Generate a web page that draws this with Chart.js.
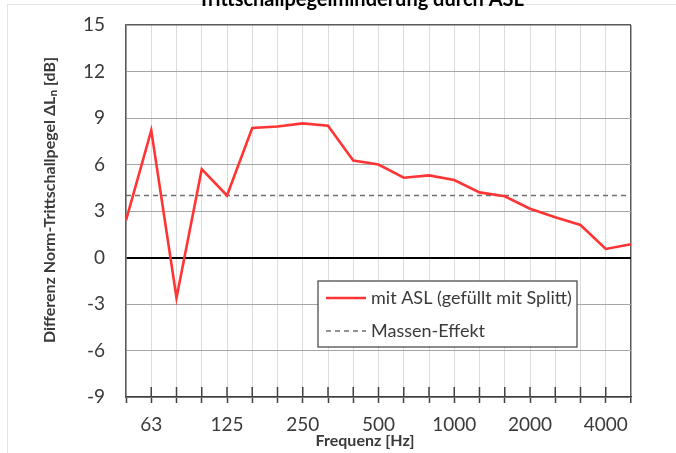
<!DOCTYPE html>
<html lang="de">
<head>
<meta charset="UTF-8">
<title>Trittschallpegelminderung durch ASL</title>
<script src="https://cdn.jsdelivr.net/npm/chart.js@4.4.1/dist/chart.umd.min.js"></script>
<style>
  html, body { margin: 0; padding: 0; background: #fff; overflow: hidden; }
  #wrap { position: relative; width: 676px; height: 453px; }
  #frame { position: absolute; left: 7px; top: 4px; right: -10px; bottom: -10px; border: 1px solid #e4e4e4; }
  canvas { position: absolute; left: 0; top: 0; }
</style>
</head>
<body>
<div id="wrap">
  <div id="frame"></div>
  <canvas id="myChart" width="676" height="453"></canvas>
</div>
<script>
// Terzband-Mittenfrequenzen [Hz]
const frequenzen = ['50', '63', '80', '100', '125', '160', '200', '250', '315', '400', '500',
                    '630', '800', '1000', '1250', '1600', '2000', '2500', '3150', '4000', '5000'];
// nur diese Frequenzen bekommen eine Beschriftung
const xBeschriftung = ['63', '125', '250', '500', '1000', '2000', '4000'];
// Differenz Norm-Trittschallpegel mit ASL (gefüllt mit Splitt) [dB]
const mitASL = [2.4, 8.2, -2.6, 5.7, 4.0, 8.35, 8.45, 8.65, 8.5, 6.25, 6.0,
                5.15, 5.3, 5.0, 4.2, 3.95, 3.15, 2.6, 2.1, 0.55, 0.85];
// Massen-Effekt [dB]
const massenEffekt = [4.0, 4.0, 4.0, 4.0, 4.0, 4.0, 4.0, 4.0, 4.0, 4.0, 4.0,
                      4.0, 4.0, 4.0, 4.0, 4.0, 4.0, 4.0, 4.0, 4.0, 4.0];
// y-Achse: Bereich und Schritt
const yMin = -9, yMax = 15, yStep = 3;

const schrift = 'Lato, "Open Sans", sans-serif';
const textFarbe = '#3a3a3a';

// Titel und Achsentitel
const titelPlugin = {
  id: 'titel',
  afterDraw(chart) {
    const c = chart.ctx;
    c.save();
    c.fillStyle = '#000';
    c.textAlign = 'center';
    c.textBaseline = 'alphabetic';
    c.font = 'bold 20px ' + schrift;
    c.fillText('Trittschallpegelminderung durch ASL', 361, 6);

    c.fillStyle = textFarbe;
    c.font = 'bold 16px ' + schrift;
    c.textBaseline = 'middle';
    c.fillText('Frequenz [Hz]', 365, 441);

    c.translate(50, 200);
    c.rotate(-Math.PI / 2);
    c.fillText('Differenz Norm-Trittschallpegel \u0394L\u2099 [dB]', 0, 0);
    c.restore();
  }
};

// kurze Teilstriche an der x-Achse, die in die Fläche hineinragen
const strichPlugin = {
  id: 'striche',
  afterDatasetsDraw(chart) {
    const c = chart.ctx, x = chart.scales.x, unten = chart.chartArea.bottom;
    c.save();
    c.strokeStyle = '#404040';
    c.lineWidth = 1.5;
    for (let i = 1; i < frequenzen.length - 1; i++) {
      const px = x.getPixelForTick(i);
      c.beginPath();
      c.moveTo(px, unten - 10);
      c.lineTo(px, unten);
      c.stroke();
    }
    c.restore();
  }
};

// Legende als Kasten in der Diagrammfläche
const legendePlugin = {
  id: 'legendeKasten',
  afterDatasetsDraw(chart) {
    const c = chart.ctx;
    const bx = 318, by = 281, bw = 259, bh = 66;
    c.save();
    c.fillStyle = '#fff';
    c.fillRect(bx, by, bw, bh);
    c.strokeStyle = '#404040';
    c.lineWidth = 1.2;
    c.strokeRect(bx, by, bw, bh);
    c.font = '18px ' + schrift;
    c.textBaseline = 'middle';
    c.textAlign = 'left';
    chart.data.datasets.forEach((ds, i) => {
      const y = by + 17 + i * 33;
      c.strokeStyle = ds.borderColor;
      c.lineWidth = ds.borderWidth;
      c.setLineDash(ds.borderDash || []);
      c.beginPath();
      c.moveTo(bx + 8, y);
      c.lineTo(bx + 48, y);
      c.stroke();
      c.setLineDash([]);
      c.fillStyle = textFarbe;
      c.fillText(ds.label, bx + 53, y);
    });
    c.restore();
  }
};

const ctx = document.getElementById('myChart').getContext('2d');
const myChart = new Chart(ctx, {
  type: 'line',
  data: {
    labels: frequenzen,
    datasets: [{
      label: 'mit ASL (gefüllt mit Splitt)',
      data: mitASL,
      borderColor: '#ff3535',
      borderWidth: 2.6,
      pointRadius: 0,
      tension: 0
    }, {
      label: 'Massen-Effekt',
      data: massenEffekt,
      borderColor: '#6f6f6f',
      borderWidth: 1.5,
      borderDash: [5, 4],
      pointRadius: 0,
      tension: 0
    }]
  },
  options: {
    responsive: false,
    animation: false,
    layout: { padding: { top: 25, right: 45, bottom: 0, left: 0 } },
    plugins: {
      legend: { display: false },
      title: { display: false },
      tooltip: { enabled: false }
    },
    scales: {
      x: {
        offset: false,
        afterFit: s => { s.height = 56; s.paddingLeft = 0; s.paddingRight = 0; },
        border: { color: '#404040', width: 1.5 },
        grid: {
          color: c => (c.index === frequenzen.length - 1 ? '#595959' : '#dcdcdc'),
          lineWidth: c => (c.index === frequenzen.length - 1 ? 1.5 : 1),
          tickColor: '#404040',
          tickWidth: 1.5,
          tickLength: 6
        },
        ticks: {
          autoSkip: false,
          maxRotation: 0,
          padding: 10,
          color: textFarbe,
          font: { family: schrift, size: 19 },
          callback: (v, i) => (xBeschriftung.includes(frequenzen[i]) ? frequenzen[i] : '')
        }
      },
      y: {
        min: yMin,
        max: yMax,
        afterFit: s => { s.width = 126; s.paddingTop = 0; s.paddingBottom = 0; },
        border: { color: '#595959', width: 1.5 },
        grid: {
          drawTicks: false,
          color: c => (c.tick.value === 0 ? '#000' : c.tick.value === yMax ? '#595959' : '#a6a6a6'),
          lineWidth: c => (c.tick.value === 0 ? 2 : c.tick.value === yMax ? 1.5 : 1)
        },
        ticks: {
          stepSize: yStep,
          padding: 21,
          color: textFarbe,
          font: { family: schrift, size: 19 }
        }
      }
    }
  },
  plugins: [titelPlugin, strichPlugin, legendePlugin]
});
</script>
</body>
</html>
